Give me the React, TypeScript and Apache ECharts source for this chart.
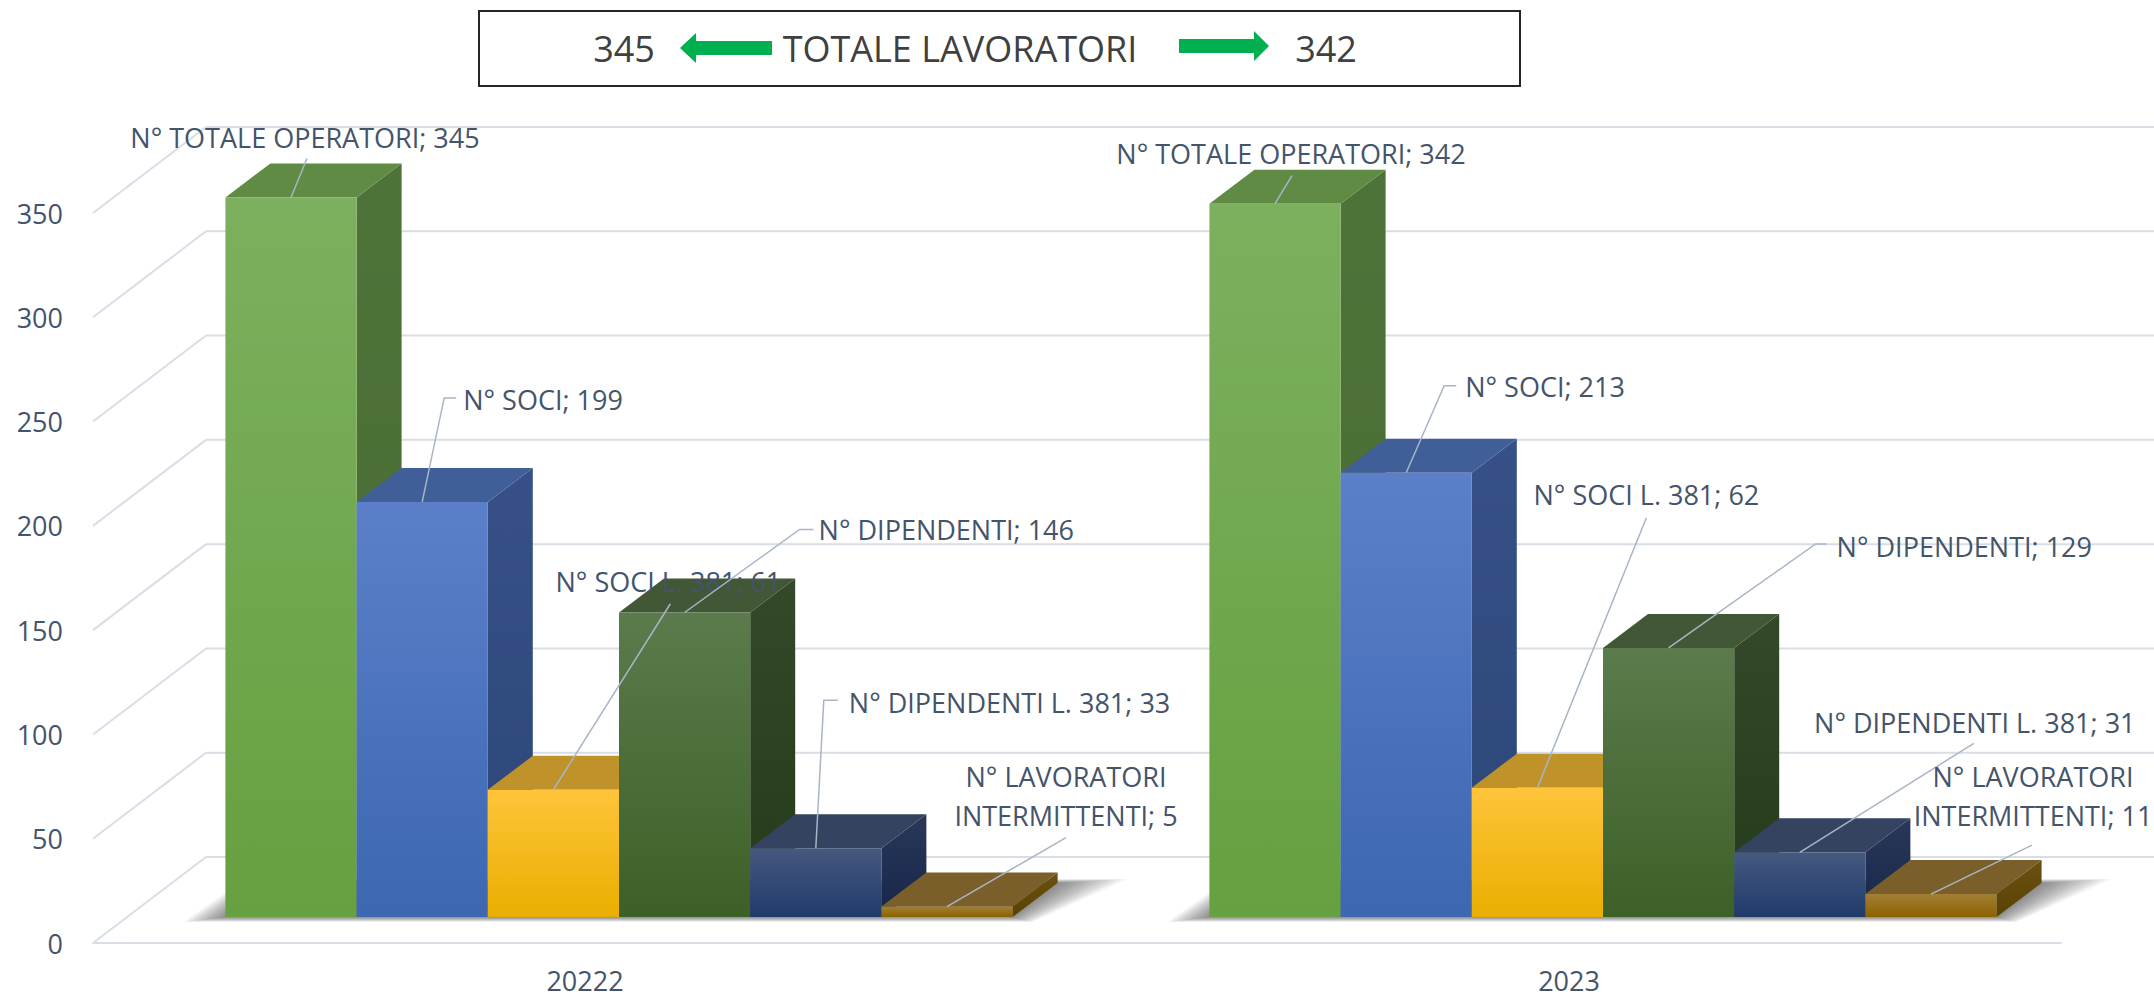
import React, { useEffect, useRef } from "react";
import * as echarts from "echarts";

// ---------- DATA ----------
const CATEGORIES = ["20222", "2023"];
const SERIES_LABELS = [
  "N° TOTALE OPERATORI",
  "N° SOCI",
  "N° SOCI L. 381",
  "N° DIPENDENTI",
  "N° DIPENDENTI L. 381",
  "N° LAVORATORI\nINTERMITTENTI",
];
const TOTALE_OPERATORI = [345, 342];
const SOCI = [199, 213];
const SOCI_L381 = [61, 62];
const DIPENDENTI = [146, 129];
const DIPENDENTI_L381 = [33, 31];
const LAVORATORI_INTERMITTENTI = [5, 11];
const Y_TICKS = [0, 50, 100, 150, 200, 250, 300, 350];
const LEGEND_TITLE = "TOTALE LAVORATORI";

const SERIES_VALUES = [
  TOTALE_OPERATORI,
  SOCI,
  SOCI_L381,
  DIPENDENTI,
  DIPENDENTI_L381,
  LAVORATORI_INTERMITTENTI,
];

// ---------- STYLE / LAYOUT ----------
const FONT = "'Open Sans', sans-serif";
const TEXT_COLOR = "#44546A";
const GRID_COLOR = "#D9DEE6";
const LEADER_COLOR = "#A8B5C7";

const FACES = [
  { ft: "#7DB05E", fb: "#66A040", top: "#5F8B45", st: "#4E7339", sb: "#486B32" },
  { ft: "#5B80C9", fb: "#3D67B1", top: "#405E97", st: "#375188", sb: "#2B4677" },
  { ft: "#FFC43A", fb: "#E8AF00", top: "#C0922A", st: "#A7801A", sb: "#9A7206" },
  { ft: "#5B7B4C", fb: "#3D6027", top: "#425735", st: "#34492A", sb: "#243A18" },
  { ft: "#46597F", fb: "#203B6B", top: "#34435F", st: "#2A3759", sb: "#16264A" },
  { ft: "#A27F34", fb: "#8B6200", top: "#7B5F2A", st: "#6A5114", sb: "#5A4200" },
];

const GRID = { left: 93, right: 93, top: 213, bottom: 55 };
const WALL_DX = 113;
const WALL_DY = -86;
const BAR_FRONT_DX = 34;
const BAR_FRONT_DY = -26;
const BAR_DEPTH_DX = 45;
const BAR_DEPTH_DY = -34;
const GAP_BARS = 1.5;
const SHADOW_LAYERS = 12;

// label layout: offsets relative to the top-front centre of each bar
type LL = { tx: number; ty: number; align: "left" | "center"; px: number; py: number; tick?: number };
const LABEL_LAYOUT: LL[][] = [
  [
    { tx: 14, ty: -60, align: "center", px: 16, py: -39 },
    { tx: 16, ty: -50, align: "center", px: 17, py: -28 },
  ],
  [
    { tx: 41, ty: -102, align: "left", px: 22, py: -104, tick: 34 },
    { tx: 59, ty: -86, align: "left", px: 38, py: -87, tick: 50 },
  ],
  [
    { tx: 115, ty: -208, align: "center", px: 117, py: -186 },
    { tx: 109, ty: -293, align: "center", px: 109, py: -270 },
  ],
  [
    { tx: 134, ty: -83, align: "left", px: 115, py: -83, tick: 129 },
    { tx: 168, ty: -101, align: "left", px: 147, py: -104, tick: 158 },
  ],
  [
    { tx: 33, ty: -146, align: "left", px: 8, py: -148, tick: 22 },
    { tx: 175, ty: -130, align: "center", px: 174, py: -109 },
  ],
  [
    { tx: 119, ty: -111, align: "center", px: 119, py: -69 },
    { tx: 102, ty: -98, align: "center", px: 101, py: -49 },
  ],
];

const N = SERIES_VALUES.length;

function barGeom(api: any, seriesIdx: number) {
  const cat = api.value(0);
  const val = api.value(1);
  const p = api.coord([cat, val]);
  const p0 = api.coord([cat, 0]);
  const bw = api.size([1, 0])[0];
  const barW = bw / (N + GAP_BARS);
  const left = p[0] - bw / 2 + BAR_FRONT_DX + (barW * GAP_BARS) / 2 + seriesIdx * barW;
  const right = left + barW;
  const top = p[1] + BAR_FRONT_DY;
  const base = p0[1] + BAR_FRONT_DY;
  return { cat, val, left, right, top, base, barW, bw, cx: p[0] };
}

function makeBarRender(idx: number) {
  return (params: any, api: any) => {
    const g = barGeom(api, idx);
    const c = FACES[idx];
    const dx = BAR_DEPTH_DX;
    const dy = BAR_DEPTH_DY;
    return {
      type: "group",
      children: [
        {
          type: "polygon",
          shape: {
            points: [
              [g.right, g.top],
              [g.right + dx, g.top + dy],
              [g.right + dx, g.base + dy],
              [g.right, g.base],
            ],
          },
          style: {
            fill: new echarts.graphic.LinearGradient(0, 0, 0, 1, [
              { offset: 0, color: c.st },
              { offset: 1, color: c.sb },
            ]),
          },
        },
        {
          type: "polygon",
          shape: {
            points: [
              [g.left, g.top],
              [g.left + dx, g.top + dy],
              [g.right + dx, g.top + dy],
              [g.right, g.top],
            ],
          },
          style: { fill: c.top },
        },
        {
          type: "rect",
          shape: { x: g.left, y: g.top, width: g.barW, height: g.base - g.top },
          style: {
            fill: new echarts.graphic.LinearGradient(0, 0, 0, 1, [
              { offset: 0, color: c.ft },
              { offset: 1, color: c.fb },
            ]),
          },
        },
      ],
    };
  };
}

function makeLabelRender(idx: number) {
  return (params: any, api: any) => {
    const g = barGeom(api, idx);
    const L = LABEL_LAYOUT[idx][g.cat];
    const ax = g.left + g.barW / 2;
    const ay = g.top;
    const pts: number[][] = [
      [ax, ay],
      [ax + L.px, ay + L.py],
    ];
    if (L.tick != null) pts.push([ax + L.tick, ay + L.py]);
    return {
      type: "group",
      children: [
        {
          type: "polyline",
          shape: { points: pts },
          style: { stroke: LEADER_COLOR, lineWidth: 1.5, fill: "none" },
        },
        {
          type: "text",
          x: ax + L.tx,
          y: ay + L.ty,
          style: {
            text: SERIES_LABELS[idx] + "; " + g.val,
            align: L.align,
            verticalAlign: "middle",
            fontSize: 27,
            fontFamily: FONT,
            fill: TEXT_COLOR,
            lineHeight: 39,
          },
        },
      ],
    };
  };
}

function gridRender(params: any, api: any) {
  const cs = params.coordSys;
  const y = api.coord([0, api.value(1)])[1];
  const x0 = cs.x;
  const style = { stroke: GRID_COLOR, lineWidth: 2 };
  return {
    type: "group",
    children: [
      {
        type: "line",
        shape: { x1: x0, y1: y, x2: x0 + WALL_DX, y2: y + WALL_DY },
        style,
      },
      {
        type: "line",
        shape: { x1: x0 + WALL_DX, y1: y + WALL_DY, x2: api.getWidth(), y2: y + WALL_DY },
        style,
      },
    ],
  };
}

// soft floor shadow built from stacked translucent layers
function shadowRender(params: any, api: any) {
  const cat = api.value(0);
  const p = api.coord([cat, 0]);
  const bw = api.size([1, 0])[0];
  const barW = bw / (N + GAP_BARS);
  const left = p[0] - bw / 2 + BAR_FRONT_DX + (barW * GAP_BARS) / 2;
  const right = left + N * barW;
  const base = p[1] + BAR_FRONT_DY;
  const children: any[] = [];
  for (let i = 0; i < SHADOW_LAYERS; i++) {
    const f = (i + 1) / SHADOW_LAYERS;
    children.push({
      type: "polygon",
      shape: {
        points: [
          [left - 42 * f, base + 5 * f],
          [right + 20 * f, base + 5 * f],
          [right + BAR_DEPTH_DX + 70 * f, base + BAR_DEPTH_DY - 4 * f],
          [left + BAR_DEPTH_DX - 25 * f, base + BAR_DEPTH_DY - 4 * f],
        ],
      },
      style: { fill: "rgba(0,0,0,0.045)" },
    });
  }
  return { type: "group", children };
}

export default function App() {
  const ref = useRef<HTMLDivElement>(null);
  useEffect(() => {
    document.body.style.margin = "0";
    if (!ref.current) return;
    const chart = echarts.init(ref.current, null, { renderer: "svg" });

    const series: any[] = [
      {
        type: "custom",
        name: "grid",
        silent: true,
        z: 0,
        renderItem: gridRender,
        data: Y_TICKS.map((v) => [0, v]),
      },
      {
        type: "custom",
        name: "shadow",
        silent: true,
        z: 1,
        renderItem: shadowRender,
        data: CATEGORIES.map((_, i) => [i, 0]),
      },
    ];
    SERIES_VALUES.forEach((vals, idx) => {
      series.push({
        type: "custom",
        name: SERIES_LABELS[idx],
        z: 2,
        renderItem: makeBarRender(idx),
        data: vals.map((v, i) => [i, v]),
      });
    });
    SERIES_VALUES.forEach((vals, idx) => {
      series.push({
        type: "custom",
        name: SERIES_LABELS[idx] + " label",
        z: 10,
        silent: true,
        renderItem: makeLabelRender(idx),
        data: vals.map((v, i) => [i, v]),
      });
    });

    const legendText = { fontSize: 36, fontFamily: FONT, fill: "#404040" };

    chart.setOption({
      animation: false,
      backgroundColor: "#ffffff",
      grid: { ...GRID, containLabel: false },
      xAxis: {
        type: "category",
        data: CATEGORIES,
        axisLine: { show: true, lineStyle: { color: GRID_COLOR, width: 2 } },
        axisTick: { show: false },
        axisLabel: { margin: 24, fontSize: 27, fontFamily: FONT, color: TEXT_COLOR },
        splitLine: { show: false },
      },
      yAxis: {
        type: "value",
        min: 0,
        max: 350,
        interval: 50,
        axisLine: { show: false },
        axisTick: { show: false },
        splitLine: { show: false },
        axisLabel: { margin: 30, fontSize: 27, fontFamily: FONT, color: TEXT_COLOR },
      },
      graphic: [
        {
          type: "rect",
          shape: { x: 479, y: 11, width: 1041, height: 75 },
          style: { fill: "#ffffff", stroke: "#262626", lineWidth: 2 },
        },
        {
          type: "text",
          x: 624,
          y: 48,
          style: { ...legendText, text: String(TOTALE_OPERATORI[0]), align: "center", verticalAlign: "middle" },
        },
        {
          type: "polygon",
          shape: {
            points: [
              [680, 48],
              [696, 33],
              [696, 41],
              [772, 41],
              [772, 55],
              [696, 55],
              [696, 63],
            ],
          },
          style: { fill: "#00B050" },
        },
        {
          type: "text",
          x: 960,
          y: 48,
          style: { ...legendText, text: LEGEND_TITLE, align: "center", verticalAlign: "middle" },
        },
        {
          type: "polygon",
          shape: {
            points: [
              [1179, 39],
              [1254, 39],
              [1254, 31],
              [1269, 46],
              [1254, 61],
              [1254, 53],
              [1179, 53],
            ],
          },
          style: { fill: "#00B050" },
        },
        {
          type: "text",
          x: 1326,
          y: 48,
          style: { ...legendText, text: String(TOTALE_OPERATORI[1]), align: "center", verticalAlign: "middle" },
        },
      ],
      series,
    });
    return () => chart.dispose();
  }, []);
  return <div ref={ref} style={{ width: 2154, height: 998, overflow: "hidden" }} />;
}
